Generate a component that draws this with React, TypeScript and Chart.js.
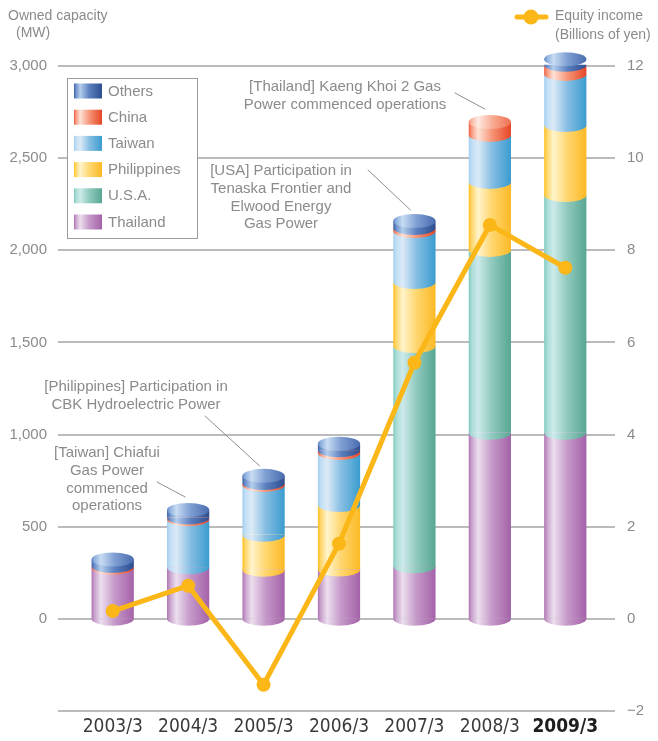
import { useEffect, useRef } from 'react';
import { Chart, registerables } from 'chart.js';

Chart.register(...registerables);

// ---------- data ----------
const categories = ['2003/3', '2004/3', '2005/3', '2006/3', '2007/3', '2008/3', '2009/3'];
const thailand = [277, 280, 266, 268, 285, 1010, 1010];
const usa = [0, 0, 0, 0, 1195, 992, 1290];
const philippines = [0, 0, 190, 350, 348, 369, 380];
const taiwan = [0, 260, 271, 282, 277, 255, 277];
const china = [10, 10, 10, 15, 16, 70, 50];
const others = [35, 41, 39, 35, 38, 0, 30];
const equityIncome = [0.17, 0.72, -1.43, 1.63, 5.56, 8.55, 7.62];
const capacityTicks = [0, 500, 1000, 1500, 2000, 2500, 3000];
const incomeTicks = [-2, 0, 2, 4, 6, 8, 10, 12];

// ---------- styles ----------
const STOPS = [0, 0.07, 0.22, 0.55, 1];
const series = [
  { label: 'Thailand', data: thailand, body: ['#ad72b2', '#c9a2cd', '#ecdfee', '#c598c9', '#a462a8'], face: ['#c08ac4', '#d8bcdb', '#f3e9f4', '#d2aed5', '#b37bb6'] },
  { label: 'U.S.A.', data: usa, body: ['#7ccabd', '#a9dcd6', '#cdeaea', '#8fc9bd', '#58a693'], face: ['#92d4c9', '#bfe5e1', '#def2f1', '#a5d6cc', '#6fb5a5'] },
  { label: 'Philippines', data: philippines, body: ['#ffbf1f', '#ffd66a', '#fff4cc', '#ffd66e', '#fcb925'], face: ['#ffcc50', '#ffe08f', '#fff8de', '#ffe08f', '#fec63f'] },
  { label: 'Taiwan', data: taiwan, body: ['#9fcdee', '#c0def5', '#dceaf7', '#86bee3', '#3a9ccf'], face: ['#b2d7f1', '#d0e6f7', '#e9f2fa', '#a2cdea', '#5aaedb'] },
  { label: 'China', data: china, body: ['#ef5c3c', '#f79a80', '#fde2d6', '#f69577', '#e64526'], face: ['#f38a70', '#f9b9a5', '#fde9e1', '#f8ae96', '#ef6f52'] },
  { label: 'Others', data: others, body: ['#3d62a8', '#6d91cc', '#b3cdec', '#5b80bf', '#2d4d8e'], face: ['#5f84c3', '#8fb0de', '#c8dcf3', '#7f9fd3', '#4a6cae'] },
];
const legendOrder = ['Others', 'China', 'Taiwan', 'Philippines', 'U.S.A.', 'Thailand'];
const LINE_COLOR = '#fbb617';
const GRAY = '#8b8b8b';
const BAR_PCT = 0.56;
const RY = 7;
const FONT = '"Liberation Sans", Arial, sans-serif';
const NARROW = '"Liberation Sans Narrow", "Arial Narrow", "DejaVu Sans Condensed", sans-serif';

type Note = { lines: string[]; cx: number; y: number; from: [number, number]; bar: number; dx: number; dy: number };
const notes: Note[] = [
  { lines: ['[Taiwan] Chiafui', 'Gas Power', 'commenced', 'operations'], cx: 107, y: 453, from: [157, 482], bar: 1, dx: -3, dy: -13 },
  { lines: ['[Philippines] Participation in', 'CBK Hydroelectric Power'], cx: 136, y: 387, from: [205, 416], bar: 2, dx: -4, dy: -10 },
  { lines: ['[USA] Participation in', 'Tenaska Frontier and', 'Elwood Energy', 'Gas Power'], cx: 281, y: 171, from: [368, 170], bar: 4, dx: -4, dy: -11 },
  { lines: ['[Thailand] Kaeng Khoi 2 Gas', 'Power commenced operations'], cx: 345, y: 87, from: [455, 93], bar: 5, dx: -5, dy: -13 },
];

function hGrad(ctx: CanvasRenderingContext2D, x0: number, x1: number, colors: string[]) {
  const g = ctx.createLinearGradient(x0, 0, x1, 0);
  colors.forEach((c, i) => g.addColorStop(STOPS[i], c));
  return g;
}

function topIndex(j: number) {
  let top = -1;
  series.forEach((s, i) => { if (s.data[j] > 0) top = i; });
  return top;
}

const cylinderPlugin = {
  id: 'cylinders',
  beforeDatasetsDraw(chart: any) {
    const { ctx, chartArea } = chart;
    const y1 = chart.scales.y1;
    ctx.save();
    ctx.strokeStyle = '#a5a5a5';
    ctx.lineWidth = 1.5;
    incomeTicks.forEach((v) => {
      const py = Math.round(y1.getPixelForValue(v));
      ctx.beginPath();
      ctx.moveTo(chartArea.left - 17, py);
      ctx.lineTo(chartArea.right + 12, py);
      ctx.stroke();
    });
    ctx.restore();
  },
  beforeDatasetDraw(chart: any, args: any) {
    if (args.meta.type !== 'line') return;
    const ctx: CanvasRenderingContext2D = chart.ctx;
    ctx.save();
    series.forEach((s, i) => {
      const meta = chart.getDatasetMeta(i);
      meta.data.forEach((el: any, j: number) => {
        if (!(s.data[j] > 0)) return;
        const { x, base, width } = el.getProps(['x', 'base', 'width'], true);
        ctx.beginPath();
        ctx.ellipse(x, base, width / 2, RY, 0, 0, Math.PI);
        ctx.closePath();
        ctx.fillStyle = hGrad(ctx, x - width / 2, x + width / 2, s.body);
        ctx.fill();
      });
    });
    categories.forEach((_, j) => {
      const ti = topIndex(j);
      if (ti < 0) return;
      const el: any = chart.getDatasetMeta(ti).data[j];
      const { x, y, width } = el.getProps(['x', 'y', 'width'], true);
      ctx.beginPath();
      ctx.ellipse(x, y, width / 2, RY, 0, 0, Math.PI * 2);
      ctx.fillStyle = hGrad(ctx, x - width / 2, x + width / 2, series[ti].face);
      ctx.fill();
    });
    ctx.restore();
  },
  afterDraw(chart: any) {
    const ctx: CanvasRenderingContext2D = chart.ctx;
    ctx.save();
    ctx.fillStyle = GRAY;
    ctx.textBaseline = 'middle';
    ctx.textAlign = 'left';
    ctx.font = `14px ${FONT}`;
    ctx.fillText('Owned capacity', 8, 16);
    ctx.fillText('(MW)', 16, 33);
    ctx.fillText('Equity income', 555, 16);
    ctx.fillText('(Billions of yen)', 555, 35);
    ctx.strokeStyle = LINE_COLOR;
    ctx.lineWidth = 5;
    ctx.lineCap = 'round';
    ctx.beginPath();
    ctx.moveTo(517, 17);
    ctx.lineTo(546, 17);
    ctx.stroke();
    ctx.fillStyle = LINE_COLOR;
    ctx.beginPath();
    ctx.arc(531, 17, 7.5, 0, Math.PI * 2);
    ctx.fill();
    ctx.fillStyle = '#ffffff';
    ctx.fillRect(67.5, 78.5, 130, 160);
    ctx.strokeStyle = '#9c9c9c';
    ctx.lineWidth = 1;
    ctx.strokeRect(67.5, 78.5, 130, 160);
    legendOrder.forEach((name, k) => {
      const s = series.find((q) => q.label === name)!;
      const cy = 91 + k * 26.2;
      ctx.fillStyle = hGrad(ctx, 74, 102, s.body);
      ctx.fillRect(74, cy - 7.5, 28, 15);
      ctx.fillStyle = GRAY;
      ctx.font = `15px ${FONT}`;
      ctx.textAlign = 'left';
      ctx.fillText(name, 108, cy + 0.5);
    });
    ctx.font = `15px ${FONT}`;
    ctx.textAlign = 'center';
    ctx.fillStyle = GRAY;
    notes.forEach((n) => {
      n.lines.forEach((t, k) => ctx.fillText(t, n.cx, n.y + k * 17.7));
      const ti = topIndex(n.bar);
      const el: any = chart.getDatasetMeta(ti).data[n.bar];
      const { x, y } = el.getProps(['x', 'y'], true);
      ctx.strokeStyle = '#8f8f8f';
      ctx.lineWidth = 1;
      ctx.beginPath();
      ctx.moveTo(n.from[0], n.from[1]);
      ctx.lineTo(x + n.dx, y + n.dy);
      ctx.stroke();
    });
    ctx.restore();
  },
};

export default function App() {
  const ref = useRef<HTMLCanvasElement | null>(null);
  useEffect(() => {
    if (!ref.current) return;
    const barSets = series.map((s) => ({
      type: 'bar' as const,
      label: s.label,
      data: s.data,
      order: 1,
      yAxisID: 'y',
      stack: 'cap',
      borderWidth: 0,
      barPercentage: BAR_PCT,
      categoryPercentage: 1,
      backgroundColor: (c: any) => {
        const chart = c.chart;
        const xs = chart.scales && chart.scales.x;
        if (!xs || c.dataIndex === undefined) return s.body[2];
        const cx = xs.getPixelForValue(c.dataIndex);
        const step = xs.getPixelForValue(1) - xs.getPixelForValue(0);
        const half = (step * BAR_PCT) / 2;
        if (!isFinite(cx) || !isFinite(half) || half <= 0) return s.body[2];
        return hGrad(chart.ctx, cx - half, cx + half, s.body);
      },
    }));
    const chart = new Chart(ref.current, {
      type: 'bar',
      data: {
        labels: categories,
        datasets: [
          ...barSets,
          {
            type: 'line' as const,
            label: 'Equity income',
            data: equityIncome,
            yAxisID: 'y1',
            order: 0,
            borderColor: LINE_COLOR,
            backgroundColor: LINE_COLOR,
            borderWidth: 5,
            pointRadius: 7,
            pointBorderWidth: 0,
            pointBackgroundColor: LINE_COLOR,
            tension: 0,
          } as any,
        ],
      },
      options: {
        responsive: false,
        animation: false,
        devicePixelRatio: 1,
        layout: { padding: { left: 8, right: 15, top: 66, bottom: 0 } },
        plugins: { legend: { display: false }, tooltip: { enabled: false } },
        scales: {
          x: {
            stacked: true,
            offset: true,
            grid: { display: false, drawTicks: false },
            border: { display: false },
            ticks: {
              padding: 5,
              color: (c: any) => (c.index === 6 ? '#1e1e1e' : '#3a3a3a'),
              font: (c: any) => ({ family: NARROW, size: 19, weight: c.index === 6 ? 'bold' : 'normal' }),
            },
            afterFit: (s: any) => { s.height = 30; },
          },
          y: {
            type: 'linear',
            position: 'left',
            stacked: true,
            min: -500,
            max: 3000,
            grid: { display: false, drawTicks: false },
            border: { display: false },
            afterBuildTicks: (s: any) => { s.ticks = capacityTicks.map((v) => ({ value: v })); },
            ticks: {
              padding: 28,
              color: GRAY,
              font: { family: FONT, size: 15 },
              callback: (v: any) => Number(v).toLocaleString('en-US'),
            },
            afterFit: (s: any) => { s.width = 67; s.paddingTop = 0; s.paddingBottom = 0; },
          },
          y1: {
            type: 'linear',
            position: 'right',
            min: -2,
            max: 12,
            grid: { display: false, drawTicks: false },
            border: { display: false },
            afterBuildTicks: (s: any) => { s.ticks = incomeTicks.map((v) => ({ value: v })); },
            ticks: {
              padding: 24,
              color: GRAY,
              font: { family: FONT, size: 15 },
              callback: (v: any) => (Number(v) < 0 ? '\u2212' + Math.abs(Number(v)) : String(v)),
            },
            afterFit: (s: any) => { s.width = 40; s.paddingTop = 0; s.paddingBottom = 0; },
          },
        },
      },
      plugins: [cylinderPlugin],
    });
    return () => chart.destroy();
  }, []);
  return (
    <div style={{ position: 'absolute', left: 0, top: 0, width: 658, height: 741, background: '#fff' }}>
      <canvas ref={ref} width={658} height={741} style={{ display: 'block' }} />
    </div>
  );
}
